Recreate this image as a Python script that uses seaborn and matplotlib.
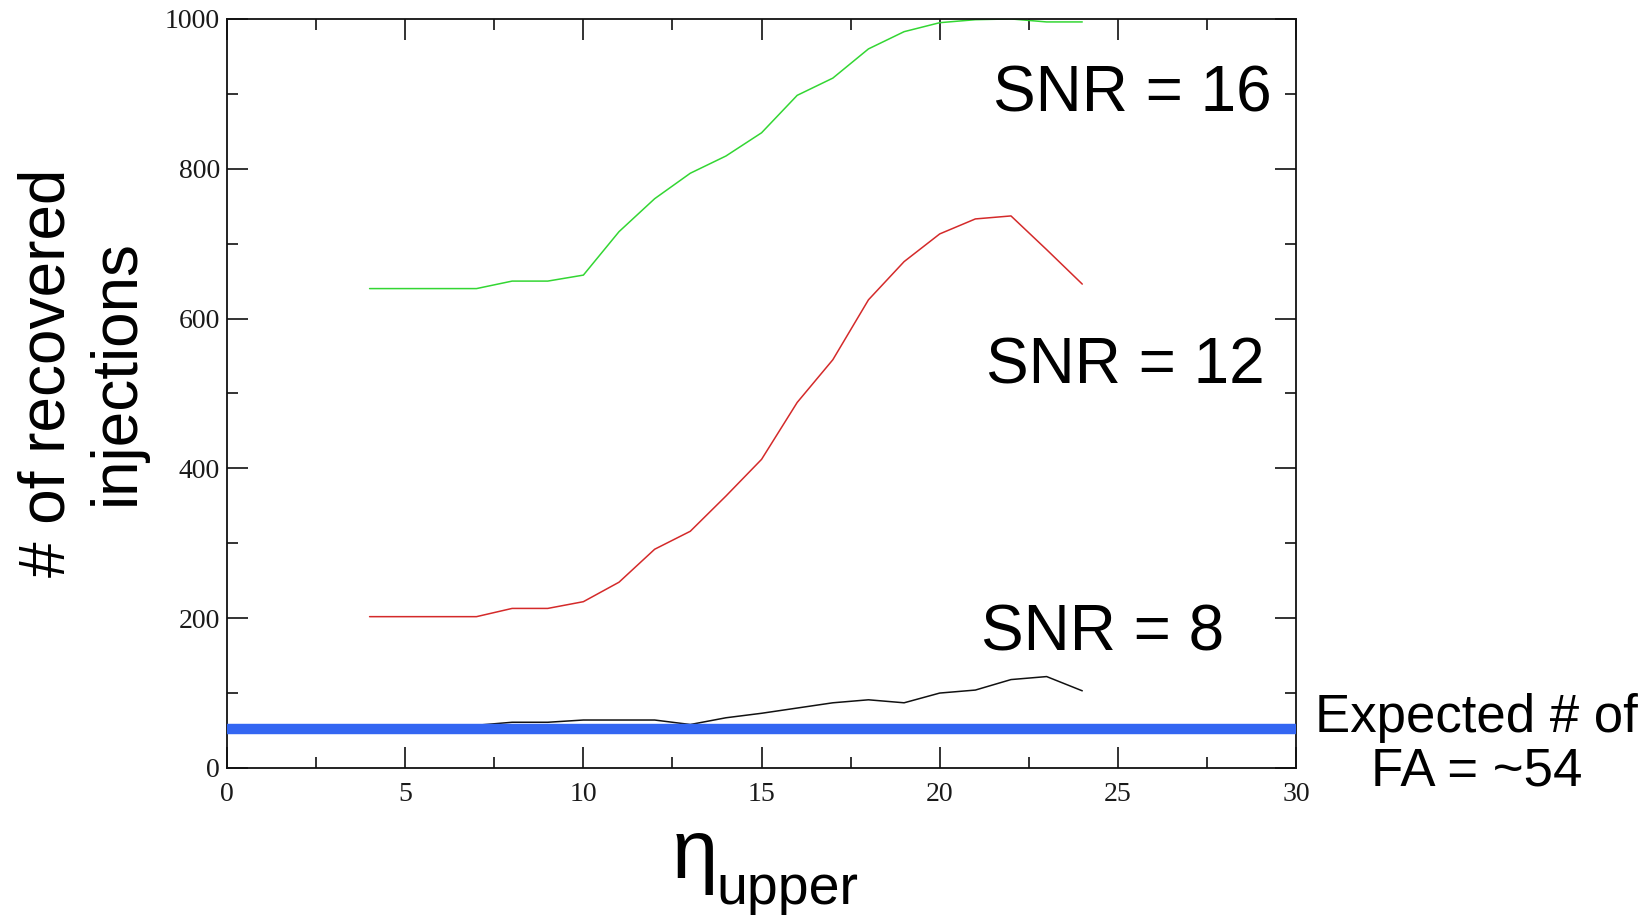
import numpy as np
import pandas as pd
import matplotlib
matplotlib.use("Agg")
import matplotlib.pyplot as plt
import seaborn as sns
from matplotlib.ticker import MultipleLocator

# ---- data ----
eta_upper = [4, 5, 6, 7, 8, 9, 10, 11, 12, 13, 14, 15, 16, 17, 18, 19, 20, 21, 22, 23, 24]
snr16 = [640, 640, 640, 640, 650, 650, 658, 716, 760, 794, 817, 848, 898, 921, 960, 983, 995, 999, 1000, 996, 996]
snr12 = [202, 202, 202, 202, 213, 213, 222, 248, 292, 316, 363, 412, 488, 545, 625, 676, 713, 733, 737, 692, 646]
snr8 = [56, 56, 56, 57, 61, 61, 64, 64, 64, 58, 67, 73, 80, 87, 91, 87, 100, 104, 118, 122, 103]
expected_fa = 52
x_range = [0, 30]

series_labels = ["SNR = 16", "SNR = 12", "SNR = 8"]
series_colors = ["#33d633", "#d42a2a", "#111111"]

df = pd.DataFrame({
    "eta": eta_upper * 3,
    "count": snr16 + snr12 + snr8,
    "series": [series_labels[0]] * len(eta_upper)
              + [series_labels[1]] * len(eta_upper)
              + [series_labels[2]] * len(eta_upper),
})

sns.set_style("ticks")
plt.rcParams["font.family"] = ["Liberation Sans", "DejaVu Sans"]
plt.rcParams["text.color"] = "black"

fig = plt.figure(figsize=(16.5, 9.15), dpi=100)
ax = fig.add_axes([0.1376, 0.1607, 0.6479, 0.8186])

sns.lineplot(data=df, x="eta", y="count", hue="series",
             palette=dict(zip(series_labels, series_colors)),
             linewidth=1.1, legend=False, ax=ax, estimator=None)

# expected false alarm line
ax.plot(x_range, [expected_fa, expected_fa], color="#3366f2", linewidth=7.5,
        solid_capstyle="butt", zorder=5, clip_on=False)

ax.set_xlim(0, 30)
ax.set_ylim(0, 1000)
ax.xaxis.set_major_locator(MultipleLocator(5))
ax.xaxis.set_minor_locator(MultipleLocator(2.5))
ax.yaxis.set_major_locator(MultipleLocator(200))
ax.yaxis.set_minor_locator(MultipleLocator(100))
ax.tick_params(which="both", direction="in", top=True, right=True,
               width=1.2, color="#111111")
ax.tick_params(which="major", length=15)
ax.tick_params(which="minor", length=8)
ax.tick_params(axis="y", which="major", pad=5)
ax.tick_params(axis="x", which="major", pad=10)
for lab in ax.get_xticklabels() + ax.get_yticklabels():
    lab.set_fontfamily("Liberation Serif")
    lab.set_fontsize(20)
    lab.set_color("#1a1a1a")
for sp in ax.spines.values():
    sp.set_linewidth(1.3)
    sp.set_color("#111111")
    sp.set_visible(True)
ax.set_xlabel("")
ax.set_ylabel("")

# annotations
tc = "black"
fig.text(0.686, 0.897, "SNR = 16", fontsize=46, ha="center", va="center", color=tc)
fig.text(0.682, 0.600, "SNR = 12", fontsize=46, ha="center", va="center", color=tc)
fig.text(0.668, 0.308, "SNR = 8", fontsize=46, ha="center", va="center", color=tc)
fig.text(0.895, 0.186, "Expected # of\nFA = ~54", fontsize=38, ha="center",
         va="center", multialignment="center", linespacing=1.1, color=tc)

fig.text(0.050, 0.593, "# of recovered\ninjections", fontsize=46, rotation=90,
         ha="center", va="center", multialignment="center", linespacing=1.2, color=tc)

fig.text(0.407, 0.0404, "η", fontsize=60, ha="left", va="baseline", color=tc)
fig.text(0.434, 0.0125, "upper", fontsize=40, ha="left", va="baseline", color=tc)

fig.savefig("out.png", dpi=100, facecolor="white")
